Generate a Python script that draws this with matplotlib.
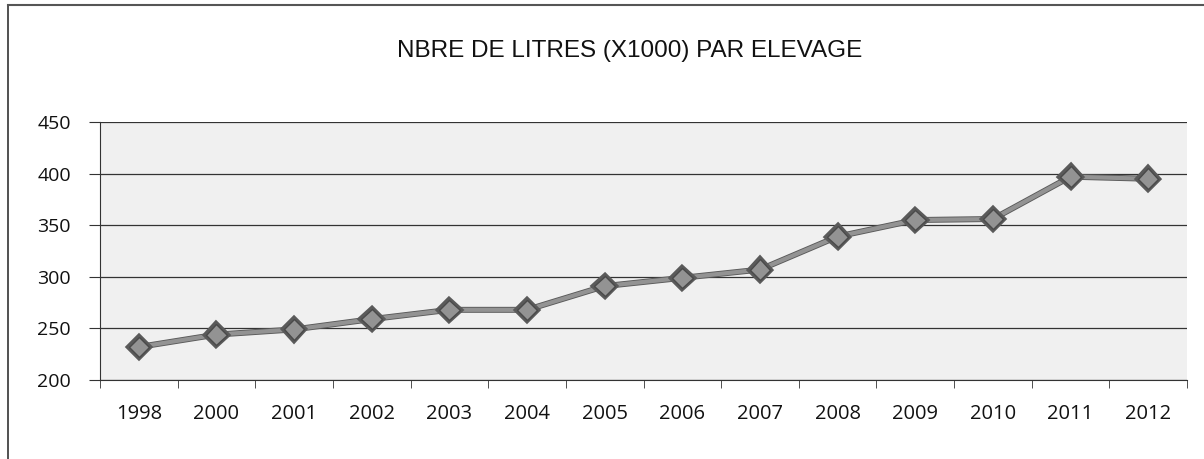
import matplotlib.pyplot as plt
import matplotlib.patheffects as pe
from matplotlib.lines import Line2D
import numpy as np

annees = ['1998', '2000', '2001', '2002', '2003', '2004', '2005',
          '2006', '2007', '2008', '2009', '2010', '2011', '2012']
litres = [232, 244, 249, 259, 268, 268, 291, 299, 307, 339, 355, 356, 397, 395]

W, H = 1204, 459
fig = plt.figure(figsize=(W / 100, H / 100), dpi=100)
fig.patch.set_facecolor('white')

# cadre exterieur (gauche + haut)
fig.add_artist(Line2D([8 / W, 8 / W], [0, 1 - 5 / H], transform=fig.transFigure,
                      color='#333333', lw=1.2))
fig.add_artist(Line2D([8 / W, 1], [1 - 5 / H, 1 - 5 / H], transform=fig.transFigure,
                      color='#555555', lw=1.5))

ax = fig.add_axes([100 / W, 1 - 380 / H, 1087 / W, 258 / H])
ax.set_facecolor('#f0f0f0')

x = np.arange(len(annees))
ax.plot(x, litres, color='#939393', lw=3.0, marker='D', markersize=10.5,
        markerfacecolor='#939393', markeredgecolor='#4a4a4a', markeredgewidth=1.0,
        path_effects=[pe.Stroke(linewidth=4.3, foreground='#5a5a5a'), pe.Normal()],
        zorder=3)

ax.set_xlim(-0.5, len(annees) - 0.5)
ax.set_ylim(200, 450)
ax.set_yticks(np.arange(200, 451, 50))
ax.yaxis.grid(True, color='#333333', lw=0.9)
ax.set_axisbelow(True)

ax.set_xticks(x)
ax.set_xticklabels(annees)
ax.set_xticks(np.arange(-0.5, len(annees), 1), minor=True)
ax.tick_params(axis='x', which='major', length=0, pad=17, labelsize=14.5)
ax.tick_params(axis='x', which='minor', length=6, direction='out', color='#333333')
ax.tick_params(axis='y', length=8, direction='out', labelsize=14, pad=13, color='#333333')
for lab in ax.get_xticklabels() + ax.get_yticklabels():
    lab.set_family(['Open Sans', 'DejaVu Sans'])
    lab.set_color('#111111')

for s in ['top', 'right']:
    ax.spines[s].set_visible(False)
ax.spines['left'].set_color('#333333')
ax.spines['bottom'].set_color('#333333')

fig.text(630 / W, 1 - 51 / H, 'NBRE DE LITRES (X1000) PAR ELEVAGE',
         ha='center', va='center', fontsize=17.5,
         family=['Liberation Sans Narrow', 'Liberation Sans', 'DejaVu Sans'],
         color='#111111')

fig.savefig('out.png', dpi=100)
